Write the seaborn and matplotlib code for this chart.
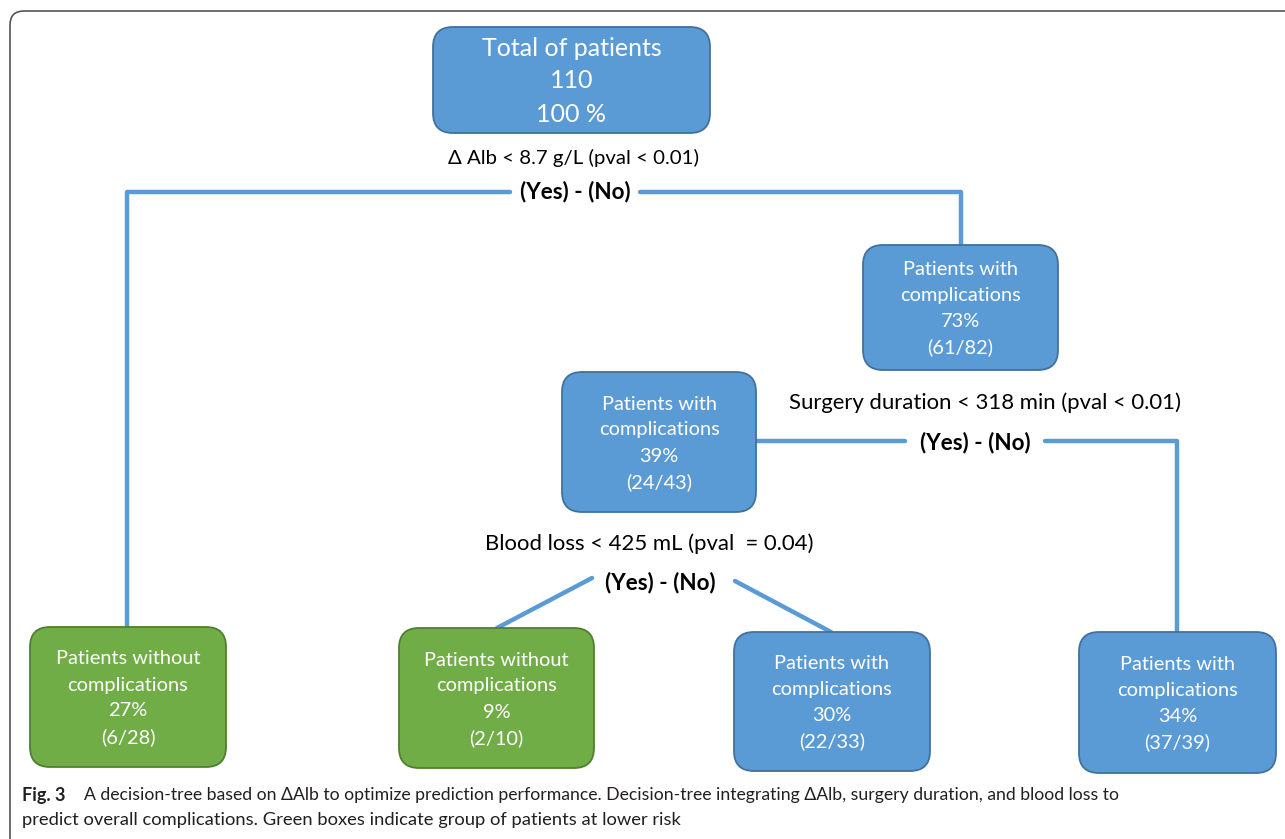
import pandas as pd
import seaborn as sns
import matplotlib.pyplot as plt
from matplotlib.patches import FancyBboxPatch

# Node contents of the decision tree
node_ids = ["root", "no_alb", "yes_alb", "yes_surg", "no_surg", "yes_blood", "no_blood"]
node_titles = [["Total of patients"], ["Patients with", "complications"], ["Patients without", "complications"],
               ["Patients with", "complications"], ["Patients with", "complications"],
               ["Patients without", "complications"], ["Patients with", "complications"]]
node_pct = ["100 %", "73%", "27%", "39%", "34%", "9%", "30%"]
node_counts = ["110", "(61/82)", "(6/28)", "(24/43)", "(37/39)", "(2/10)", "(22/33)"]
low_risk = [False, False, True, False, False, True, False]

split_labels = ["\u0394 Alb < 8.7 g/L (pval < 0.01)",
                "Surgery duration < 318 min (pval < 0.01)",
                "Blood loss < 425 mL (pval  = 0.04)"]
branch_label = "(Yes) - (No)"

caption_bold = "Fig. 3"
caption_line1 = ("A decision-tree based on \u0394Alb to optimize prediction performance. Decision-tree integrating "
                 "\u0394Alb, surgery duration, and blood loss to")
caption_line2 = "predict overall complications. Green boxes indicate group of patients at lower risk"

# Layout (pixel-like canvas coordinates)
W, H = 1285, 839
boxes = {
    "root": (433, 27, 277, 106),
    "no_alb": (863, 245, 195, 125),
    "yes_surg": (562, 372, 194, 140),
    "yes_alb": (30, 627, 196, 140),
    "yes_blood": (399, 628, 195, 140),
    "no_blood": (734, 632, 196, 139),
    "no_surg": (1079, 632, 197, 141),
}
# (label x, label y, label size, branch x, branch y)
split_pos = [(573, 158, 14.7, 575, 192), (985, 403, 15.9, 975, 443), (649, 544, 15.9, 660, 583)]
edges = [
    [(510, 192), (127, 192), (127, 627)],
    [(640, 192), (961, 192), (961, 245)],
    [(756, 441), (905, 441)],
    [(1045, 441), (1177, 441), (1177, 633)],
    [(592, 578), (497, 628)],
    [(735, 581), (831, 632)],
]

BLUE, BLUE_EDGE = "#5b9bd5", "#41719c"
GREEN, GREEN_EDGE = "#70ad47", "#507e32"

sns.set_theme(style="white")
plt.rcParams['font.family'] = ['Lato', 'DejaVu Sans']

fig = plt.figure(figsize=(W / 100, H / 100), dpi=100)
ax = fig.add_axes([0, 0, 1, 1])

# outer frame
ax.add_patch(FancyBboxPatch((10, 11), W + 40, H + 40, boxstyle="round,pad=0,rounding_size=14",
                            fc="white", ec="#555555", lw=1.2, zorder=0))

# connectors
rows = []
for k, pts in enumerate(edges):
    for j, (x, y) in enumerate(pts):
        rows.append({"edge": k, "order": j, "x": x, "y": y})
edge_df = pd.DataFrame(rows)
sns.lineplot(data=edge_df, x="x", y="y", units="edge", estimator=None, sort=False,
             color=BLUE, lw=3.2, ax=ax, legend=False, zorder=1)
ax.set_xlim(0, W)
ax.set_ylim(H, 0)
ax.axis("off")

# nodes
for nid, title, pct, cnt, green in zip(node_ids, node_titles, node_pct, node_counts, low_risk):
    x, y, w, h = boxes[nid]
    fc, ec = (GREEN, GREEN_EDGE) if green else (BLUE, BLUE_EDGE)
    ax.add_patch(FancyBboxPatch((x, y), w, h, boxstyle="round,pad=0,rounding_size=20",
                                fc=fc, ec=ec, lw=1.3, zorder=2))
    if nid == "root":
        lines, size, step = title + [cnt, pct], 18, 33
    else:
        lines, size, step = title + [pct, cnt], 14.4, 26
    cy = y + h / 2 + 1
    first = cy - step * (len(lines) - 1) / 2
    for i, line in enumerate(lines):
        ax.text(x + w / 2, first + i * step, line, ha="center", va="center", color="white",
                fontsize=size, zorder=3)

# split conditions
for label, (cx, ly, fs, bx, by) in zip(split_labels, split_pos):
    ax.text(cx, ly, label, ha="center", va="center", fontsize=fs, color="black")
    ax.text(bx, by, branch_label, ha="center", va="center",
            fontsize=16.2, fontweight="bold", color="black")

# caption
cap_color = "#231f20"
ax.text(22, 795, caption_bold, ha="left", va="center", fontsize=13, fontweight="bold", color=cap_color)
ax.text(84, 795, caption_line1, ha="left", va="center", fontsize=12.7, color=cap_color)
ax.text(22, 820, caption_line2, ha="left", va="center", fontsize=13.2, color=cap_color)

fig.savefig("out.png", dpi=100)
plt.close(fig)
